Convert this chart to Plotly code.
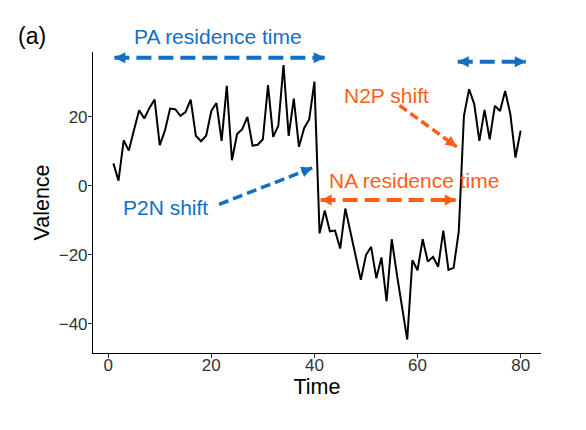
import plotly.graph_objects as go

# ---------------- data ----------------
time = list(range(1, 81))
valence = [
    6.5, 1.5, 13.2, 10.2, 16.2, 21.9, 19.5, 22.6, 25.0, 11.8,
    16.0, 22.4, 22.2, 20.3, 21.4, 25.0, 14.5, 12.9, 14.5, 21.7,
    24.0, 13.0, 29.0, 7.4, 15.0, 16.4, 20.0, 11.6, 11.9, 13.5,
    29.2, 14.2, 17.4, 35.0, 14.5, 25.3, 11.3, 16.7, 19.3, 30.2,
    -13.8, -7.2, -13.2, -13.0, -18.2, -6.6, -13.5, -20.5, -27.3, -20.1,
    -17.7, -26.8, -20.8, -33.5, -15.5, -25.8, -35.3, -44.6, -21.6, -24.5,
    -15.5, -22.0, -20.6, -23.5, -13.0, -24.4, -23.8, -13.2, 20.3, 28.0,
    23.7, 13.0, 22.0, 13.5, 23.2, 21.7, 27.5, 20.8, 8.2, 16.0,
]

x_ticks = [0, 20, 40, 60, 80]
y_ticks = [-40, -20, 0, 20]
x_range = [-2.95, 83.95]
y_range = [-48.5, 38.8]

BLUE = "#1170C4"
ORANGE = "#FF5E19"

# annotation arrows (data units)
arrow_names = ["PA", "P2N", "N2P", "NA", "PA2"]
arrow_x0 = [21.5, 21.5, 56.5, 54.3, 74.5]
arrow_y0 = [37.1, -5.4, 23.3, -4.1, 36.0]
arrow_x1 = [42.0, 39.6, 67.6, 67.4, 81.0]
arrow_y1 = [37.1, 5.2, 11.3, -4.1, 36.0]
arrow_x1b = [1.2, None, None, 41.2, 67.8]   # opposite tip for double arrows
arrow_col = [BLUE, BLUE, ORANGE, ORANGE, BLUE]
arrow_dash = ["15px,7px", "10px,5px", "9px,4.5px", "15px,7px", "15px,7px"]

label_text = ["P2N shift", "N2P shift", "NA residence time"]
label_x = [11.2, 53.9, 59.4]
label_y = [-6.4, 26.2, 1.4]
label_col = [BLUE, ORANGE, ORANGE]

top_label_text = "PA residence time"
top_label_x = 21.2

# ---------------- figure ----------------
W, H = 578, 422
ML, MR, MT, MB = 85, 45, 44, 77
px_per_x = (W - ML - MR) / (x_range[1] - x_range[0])
px_per_y = (H - MT - MB) / (y_range[1] - y_range[0])
FONT = "Liberation Sans, Arial, sans-serif"

fig = go.Figure()

fig.add_trace(go.Scatter(
    x=time, y=valence, mode="lines",
    line=dict(color="black", width=2), hoverinfo="skip", showlegend=False,
))

annotations = []


def head(tx, ty, fx, fy, col):
    # tail point ~13 px back from the tip along the arrow direction
    dxp = (fx - tx) * px_per_x
    dyp = (fy - ty) * px_per_y
    L = (dxp ** 2 + dyp ** 2) ** 0.5
    k = 13.0 / L
    annotations.append(dict(
        x=tx, y=ty, ax=tx + (fx - tx) * k, ay=ty + (fy - ty) * k,
        xref="x", yref="y", axref="x", ayref="y", text="",
        showarrow=True, arrowhead=2, arrowwidth=4, arrowsize=0.55,
        arrowcolor=col, standoff=0,
    ))


for i in range(len(arrow_names)):
    double = arrow_x1b[i] is not None
    xa = arrow_x1b[i] if double else arrow_x0[i]
    ya = arrow_y1[i] if double else arrow_y0[i]
    fig.add_trace(go.Scatter(
        x=[xa, arrow_x1[i]], y=[ya, arrow_y1[i]], mode="lines",
        line=dict(color=arrow_col[i], width=4 if double else 3.5, dash=arrow_dash[i]),
        hoverinfo="skip", showlegend=False, cliponaxis=False,
    ))
    head(arrow_x1[i], arrow_y1[i], xa, ya, arrow_col[i])
    if double:
        head(arrow_x1b[i], arrow_y1[i], arrow_x1[i], arrow_y1[i], arrow_col[i])

for t, x, y, c in zip(label_text, label_x, label_y, label_col):
    annotations.append(dict(
        x=x, y=y, xref="x", yref="y", text=t, showarrow=False,
        font=dict(size=21, color=c, family=FONT),
        xanchor="center", yanchor="middle",
    ))

annotations.append(dict(
    x=top_label_x, y=1.050, xref="x", yref="paper", text=top_label_text,
    showarrow=False, font=dict(size=21, color=BLUE, family=FONT),
    xanchor="center", yanchor="middle",
))

annotations.append(dict(
    x=-0.172, y=1.053, xref="paper", yref="paper", text="(a)", showarrow=False,
    xanchor="left", yanchor="middle",
    font=dict(size=23, color="black", family=FONT),
))

axis_common = dict(
    showline=True, linecolor="black", linewidth=1.1, showgrid=False, zeroline=False,
    ticks="outside", ticklen=4, tickwidth=1.1, tickcolor="#333333",
    tickfont=dict(size=17, color="#333333", family=FONT),
    automargin=False,
)

fig.update_layout(
    width=W, height=H,
    margin=dict(l=ML, r=MR, t=MT, b=MB),
    paper_bgcolor="white", plot_bgcolor="white",
    font=dict(family=FONT, color="black"),
    xaxis=dict(range=x_range, tickvals=x_ticks, ticklabelstandoff=-7,
               title=dict(text="Time", font=dict(size=21.5, color="black"), standoff=0),
               **axis_common),
    yaxis=dict(range=y_range, tickvals=y_ticks, ticklabelstandoff=-3,
               title=dict(text="Valence", font=dict(size=21.5, color="black"), standoff=3),
               **axis_common),
    annotations=annotations,
    showlegend=False,
)

fig.write_html("out.html")
